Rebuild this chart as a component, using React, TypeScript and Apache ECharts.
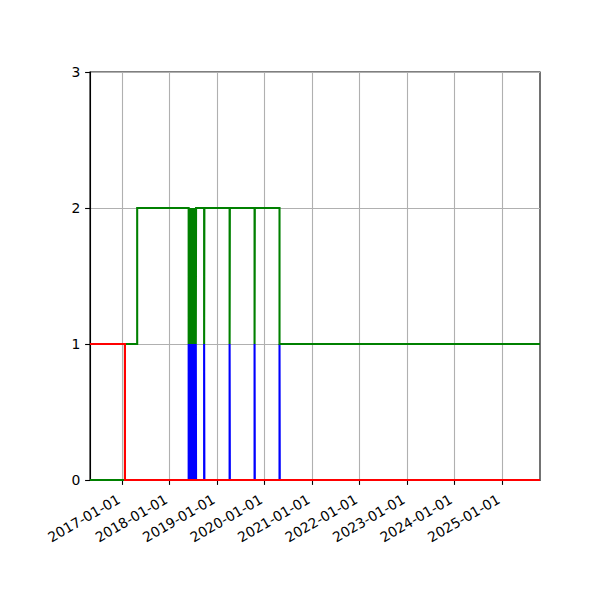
import React, { useEffect, useRef } from 'react';
import * as echarts from 'echarts';

const xMin = '2016-04-28';
const xMax = '2025-10-20';
const xTickDates = [
  '2017-01-01', '2018-01-01', '2019-01-01', '2020-01-01', '2021-01-01',
  '2022-01-01', '2023-01-01', '2024-01-01', '2025-01-01',
];
const yMin = 0;
const yMax = 3;
const yStep = 1;

const redDates = ['2016-04-28', '2017-01-22', '2025-10-20'];
const redValues = [1, 0, 0];

const blueDates = [
  '2016-04-28',
  '2018-05-27', '2018-05-29', '2018-06-01', '2018-06-03', '2018-06-06', '2018-06-08',
  '2018-06-11', '2018-06-13', '2018-06-16', '2018-06-18', '2018-06-21', '2018-06-23',
  '2018-06-26', '2018-06-28', '2018-07-01', '2018-07-03', '2018-07-06', '2018-07-08',
  '2018-07-11', '2018-07-13', '2018-07-16', '2018-07-18', '2018-07-21', '2018-07-23',
  '2018-09-23', '2018-09-25',
  '2019-04-07', '2019-04-09',
  '2019-10-16', '2019-10-18',
  '2020-04-25', '2020-04-27',
  '2025-10-20',
];
const blueValues = [
  0,
  1, 0, 1, 0, 1, 0,
  1, 0, 1, 0, 1, 0,
  1, 0, 1, 0, 1, 0,
  1, 0, 1, 0, 1, 0,
  1, 0,
  1, 0,
  1, 0,
  1, 0,
  0,
];

const greenDates = [
  '2016-04-28', '2017-01-22', '2017-04-26',
  '2018-05-27', '2018-05-29', '2018-06-01', '2018-06-03', '2018-06-06', '2018-06-08',
  '2018-06-11', '2018-06-13', '2018-06-16', '2018-06-18', '2018-06-21', '2018-06-23',
  '2018-06-26', '2018-06-28', '2018-07-01', '2018-07-03', '2018-07-06', '2018-07-08',
  '2018-07-11', '2018-07-13', '2018-07-16', '2018-07-18', '2018-07-21', '2018-07-23',
  '2018-09-23', '2018-09-25',
  '2019-04-07', '2019-04-09',
  '2019-10-16', '2019-10-18',
  '2020-04-25',
  '2025-10-20',
];
const greenValues = [
  0, 1, 2,
  1, 2, 1, 2, 1, 2,
  1, 2, 1, 2, 1, 2,
  1, 2, 1, 2, 1, 2,
  1, 2, 1, 2, 1, 2,
  1, 2,
  1, 2,
  1, 2,
  1,
  1,
];

const toMs = (d: string) => {
  const [y, m, dd] = d.split('-').map(Number);
  return Date.UTC(y, m - 1, dd);
};
const pad2 = (n: number) => String(n).padStart(2, '0');
const fmtDate = (v: number) => {
  const d = new Date(v);
  return `${d.getUTCFullYear()}-${pad2(d.getUTCMonth() + 1)}-${pad2(d.getUTCDate())}`;
};
const pairs = (dates: string[], values: number[]) => dates.map((d, i) => [toMs(d), values[i]]);

const FONT = 'DejaVu Sans';

export default function App() {
  const ref = useRef<HTMLDivElement>(null);
  useEffect(() => {
    if (!ref.current) return;
    const chart = echarts.init(ref.current, null, { renderer: 'svg' });
    const tickMs = xTickDates.map(toMs);
    const lineSeries = (name: string, color: string, data: number[][]) => ({
      name,
      type: 'line',
      step: 'end',
      data,
      showSymbol: false,
      symbol: 'none',
      clip: true,
      z: 5,
      lineStyle: { color, width: 2.08, cap: 'butt', join: 'miter' },
      itemStyle: { color },
    });
    chart.setOption({
      animation: false,
      backgroundColor: '#ffffff',
      grid: {
        left: 90,
        right: 60,
        top: 72,
        bottom: 120,
        show: true,
        borderColor: '#000000',
        borderWidth: 1.1,
        backgroundColor: 'transparent',
      },
      xAxis: {
        type: 'value',
        min: toMs(xMin),
        max: toMs(xMax),
        axisLine: { show: true, lineStyle: { color: '#000', width: 1.1 } },
        axisTick: {
          show: true,
          length: 4.9,
          lineStyle: { color: '#000', width: 1.1 },
          customValues: tickMs,
        },
        axisLabel: {
          customValues: tickMs,
          formatter: (v: number) => fmtDate(v),
          rotate: 30,
          margin: 16,
          padding: [0, 4, 0, 0],
          fontFamily: FONT,
          fontSize: 13.9,
          color: '#000',
        },
        splitLine: { show: true, lineStyle: { color: '#b0b0b0', width: 1.1 } },
      },
      yAxis: {
        type: 'value',
        min: yMin,
        max: yMax,
        interval: yStep,
        axisLine: { show: true, lineStyle: { color: '#000', width: 1.1 } },
        axisTick: { show: true, length: 4.9, lineStyle: { color: '#000', width: 1.1 } },
        axisLabel: {
          margin: 9.7,
          fontFamily: FONT,
          fontSize: 13.9,
          color: '#000',
        },
        splitLine: { show: true, lineStyle: { color: '#b0b0b0', width: 1.1 } },
      },
      series: [
        lineSeries('blue', '#0000ff', pairs(blueDates, blueValues)),
        lineSeries('green', '#008000', pairs(greenDates, greenValues)),
        lineSeries('red', '#ff0000', pairs(redDates, redValues)),
      ],
    });
    return () => chart.dispose();
  }, []);
  return (
    <div
      ref={ref}
      style={{ position: 'absolute', left: 0, top: 0, width: 600, height: 600 }}
    />
  );
}
